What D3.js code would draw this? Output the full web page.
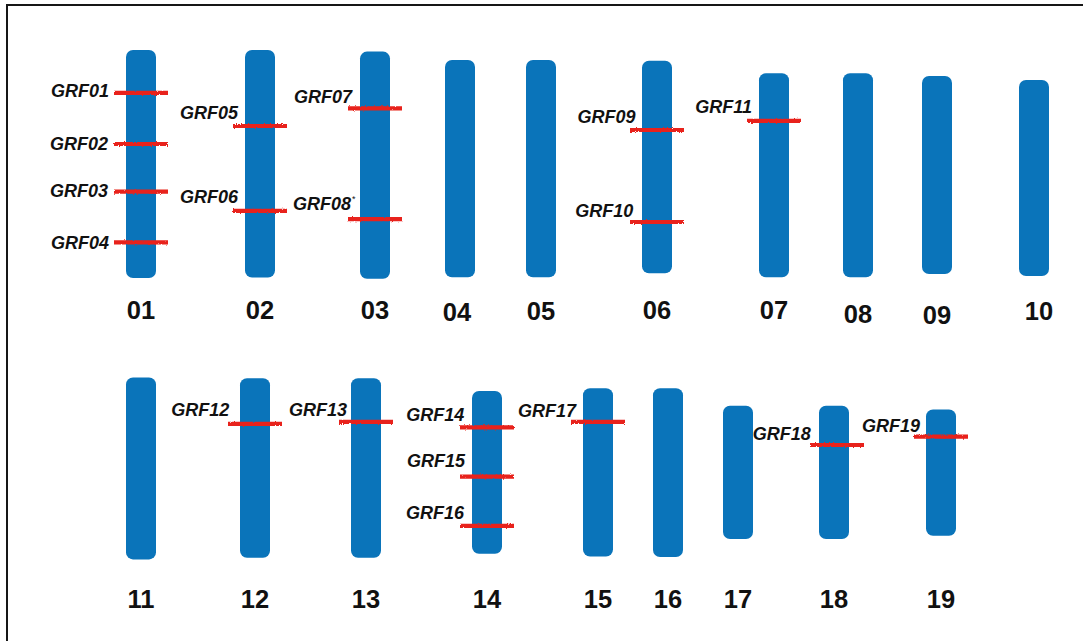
<!DOCTYPE html>
<html>
<head>
<meta charset="utf-8">
<script src="https://cdn.jsdelivr.net/npm/d3@7/dist/d3.min.js"></script>
<style>
  html, body { margin: 0; padding: 0; background: #fff; }
  svg { display: block; }
</style>
</head>
<body>
<svg id="chart" width="1083" height="641"></svg>
<script>
// ---- data -------------------------------------------------------------
// Chromosomes and the row each one is drawn in
const chromosomes = ["01","02","03","04","05","06","07","08","09","10",
                     "11","12","13","14","15","16","17","18","19"];
const chromRow    = [0,0,0,0,0,0,0,0,0,0, 1,1,1,1,1,1,1,1,1];
// Extent of each chromosome along the vertical axis (Mb)
const chromStart  = [0.0, 0.0, 0.4, 2.5, 2.5, 2.7, 5.8, 5.8, 6.5, 7.5,
                     0.1, 0.3, 0.3, 3.5, 2.8, 2.8, 7.2, 7.2, 8.1];
const chromEnd    = [57.0, 56.9, 57.2, 56.8, 56.8, 55.8, 56.8, 56.8, 56.0, 56.5,
                     45.6, 45.2, 45.2, 44.2, 44.9, 45.0, 40.5, 40.5, 39.7];

// GRF genes, their chromosome and position (Mb)
const genes       = ["GRF01","GRF02","GRF03","GRF04","GRF05","GRF06","GRF07","GRF08",
                     "GRF09","GRF10","GRF11","GRF12","GRF13","GRF14","GRF15","GRF16",
                     "GRF17","GRF18","GRF19"];
const geneChrom   = ["01","01","01","01","02","02","03","03","06","06","07",
                     "12","13","14","14","14","15","18","19"];
const genePos     = [10.7, 23.5, 35.4, 48.1, 19.0, 40.2, 14.6, 42.3, 20.0, 43.0, 17.7,
                     11.7, 11.2, 12.6, 24.9, 37.2, 11.2, 17.0, 14.9];
const geneNote    = ["","","","","","","","*","","","","","","","","","","",""];

// ---- layout -----------------------------------------------------------
const W = 1083, H = 641;
const rowTop = [50, 377];           // top of the Mb axis in each row
const labelBase = [319, 608];       // baseline of chromosome names
const colX = [141, 260, 375, 460, 541, 657, 774, 858, 937, 1034,
              141, 255, 366, 487, 598, 668, 738, 834, 941];
const chromLabelNudge = { "04": [-3, 2], "05": [0, 1], "08": [0, 4], "09": [0, 5], "10": [5, 1] };
// marker shift and gene label offsets from the left end of the marker: [dx, dy]
const markerShift = { "18": 3, "15": 0 };
const geneLabelOffset = [[-4, 4.5], [-5, 6], [-5, 5], [-4, 6.5], [6, -7], [6, -7.5],
                         [5, -5.5], [4, -9.5], [6.5, -7.3], [4.3, -5.3], [6, -7.4],
                         [2.3, -8], [9, -6], [5.3, -6.6], [6, -9.4], [5, -6.7],
                         [6, -5], [1.7, -5], [7, -5]];

const chromWidth = 30;
const markerHalf = 27;
const blue = "#0a74ba";
const red = "#e8201c";
const font = "'Liberation Sans', Arial, Helvetica, sans-serif";

const svg = d3.select("#chart");

// scales
const mb = d3.scaleLinear().domain([0, 60]).range([0, 240]);
const xScale = d3.scaleOrdinal().domain(chromosomes).range(colX);
const rowOf = d3.scaleOrdinal().domain(chromosomes).range(chromRow);
const yOf = (chrom, v) => rowTop[rowOf(chrom)] + mb(v);
const markerX = chrom => xScale(chrom) + (markerShift[chrom] || 0);

// frame
svg.append("rect").attr("x", 0).attr("y", 0).attr("width", W).attr("height", H).attr("fill", "#fff");
svg.append("path")
  .attr("d", `M7,${H + 2}V5H${W + 2}`)
  .attr("fill", "none").attr("stroke", "#161616").attr("stroke-width", 2);

// rough edge for gene markers
const defs = svg.append("defs");
const f = defs.append("filter").attr("id", "rough")
  .attr("x", "-10%").attr("y", "-100%").attr("width", "120%").attr("height", "300%");
f.append("feTurbulence").attr("type", "fractalNoise").attr("baseFrequency", "0.9")
  .attr("numOctaves", 2).attr("seed", 3).attr("result", "noise");
f.append("feDisplacementMap").attr("in", "SourceGraphic").attr("in2", "noise")
  .attr("scale", 2.4).attr("xChannelSelector", "R").attr("yChannelSelector", "G");

// chromosomes
const chromData = chromosomes.map((c, i) => ({ name: c, start: chromStart[i], end: chromEnd[i] }));

svg.append("g").selectAll("rect").data(chromData).join("rect")
  .attr("x", d => xScale(d.name) - chromWidth / 2)
  .attr("y", d => yOf(d.name, d.start))
  .attr("width", chromWidth)
  .attr("height", d => mb(d.end) - mb(d.start))
  .attr("rx", 7).attr("ry", 7)
  .attr("fill", blue);

// chromosome names
svg.append("g").selectAll("text").data(chromData).join("text")
  .attr("x", d => xScale(d.name) + (chromLabelNudge[d.name] ? chromLabelNudge[d.name][0] : 0))
  .attr("y", d => labelBase[rowOf(d.name)] + (chromLabelNudge[d.name] ? chromLabelNudge[d.name][1] : 0))
  .attr("text-anchor", "middle")
  .attr("font-family", font)
  .attr("font-weight", "bold")
  .attr("font-size", 25.5)
  .attr("fill", "#111")
  .text(d => d.name);

// gene markers
const geneData = genes.map((g, i) => ({
  name: g, chrom: geneChrom[i], pos: genePos[i], note: geneNote[i], off: geneLabelOffset[i]
}));

svg.append("g").attr("filter", "url(#rough)").selectAll("line").data(geneData).join("line")
  .attr("x1", d => markerX(d.chrom) - markerHalf)
  .attr("x2", d => markerX(d.chrom) + markerHalf)
  .attr("y1", d => yOf(d.chrom, d.pos))
  .attr("y2", d => yOf(d.chrom, d.pos))
  .attr("stroke", red)
  .attr("stroke-width", 4.2);

// gene labels
svg.append("g").selectAll("text").data(geneData).join("text")
  .attr("x", d => markerX(d.chrom) - markerHalf + d.off[0] - 1)
  .attr("y", d => yOf(d.chrom, d.pos) + d.off[1])
  .attr("text-anchor", "end")
  .attr("font-family", font)
  .attr("font-weight", "bold")
  .attr("font-style", "italic")
  .attr("font-size", 18)
  .attr("fill", "#111")
  .text(d => d.name);

// superscript notes drawn just after the gene name
svg.append("g").selectAll("text").data(geneData.filter(d => d.note)).join("text")
  .attr("x", d => markerX(d.chrom) - markerHalf + d.off[0])
  .attr("y", d => yOf(d.chrom, d.pos) + d.off[1] - 8)
  .attr("font-family", font)
  .attr("font-size", 9)
  .attr("fill", "#111")
  .text(d => d.note);
</script>
</body>
</html>
